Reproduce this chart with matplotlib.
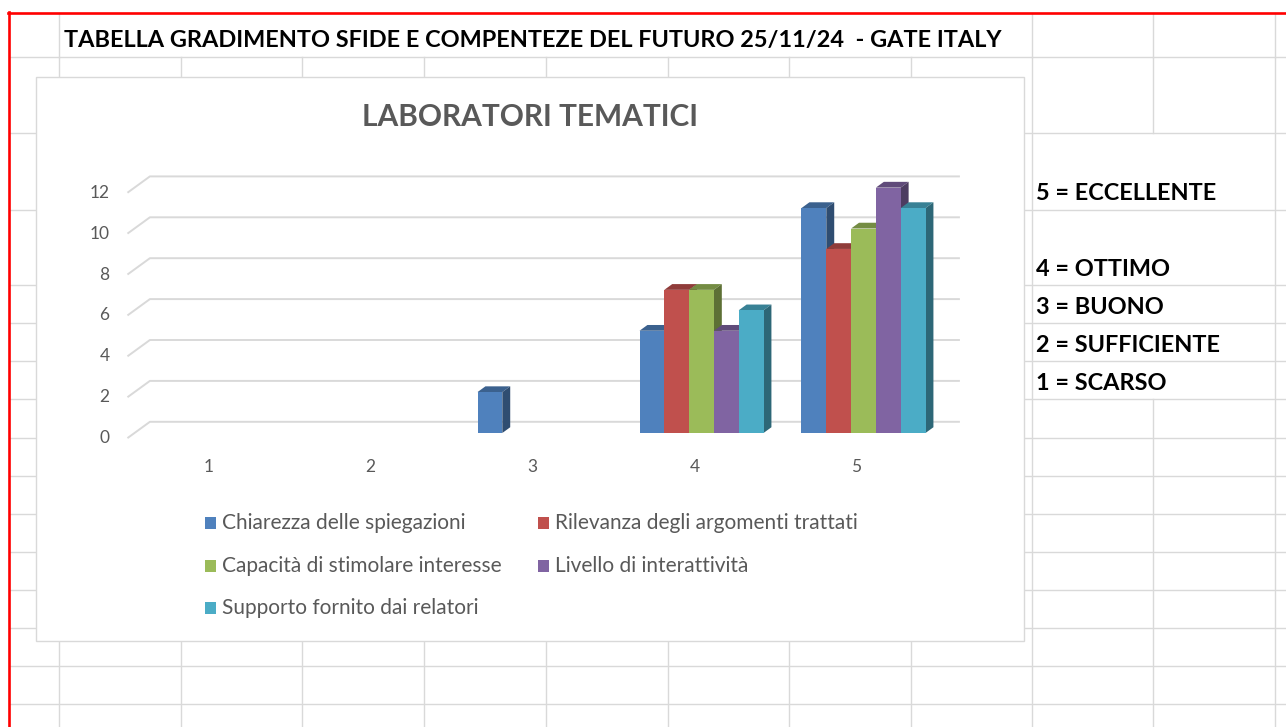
import matplotlib
matplotlib.use("Agg")
import matplotlib.pyplot as plt
from matplotlib.patches import Polygon, Rectangle
from matplotlib.lines import Line2D
import matplotlib.colors as mcolors

# ---------------- data ----------------
categories = [1, 2, 3, 4, 5]
series_names = ["Chiarezza delle spiegazioni", "Rilevanza degli argomenti trattati",
                "Capacità di stimolare interesse", "Livello di interattività",
                "Supporto fornito dai relatori"]
chiarezza = [0, 0, 2, 5, 11]
rilevanza = [0, 0, 0, 7, 9]
capacita = [0, 0, 0, 7, 10]
livello = [0, 0, 0, 5, 12]
supporto = [0, 0, 0, 6, 11]
y_ticks = [0, 2, 4, 6, 8, 10, 12]
chart_title = "LABORATORI TEMATICI"
sheet_header = "TABELLA GRADIMENTO SFIDE E COMPENTEZE DEL FUTURO 25/11/24  - GATE ITALY"
scale_labels = ["5 = ECCELLENTE", "4 = OTTIMO", "3 = BUONO", "2 = SUFFICIENTE", "1 = SCARSO"]

series_values = [chiarezza, rilevanza, capacita, livello, supporto]
colors = ["#4f81bd", "#c0504d", "#9bbb59", "#8064a2", "#4bacc6"]

FONT = "Lato"
W, H = 1286, 727
fig = plt.figure(figsize=(W / 100, H / 100), dpi=100)
fig.patch.set_facecolor("white")


def fx(x):
    return x / W


def fy(y):
    return 1 - y / H


GRID = "#d9d9d9"
# spreadsheet grid
row_lines = [57, 133, 210, 285, 323, 361, 399, 437.5, 476, 514, 552, 590, 628, 666, 704]
col_lines = [59, 181, 302, 424, 546, 668, 789, 911, 1032, 1153, 1275]
for y in row_lines:
    fig.add_artist(Line2D([fx(10), fx(W)], [fy(y), fy(y)], color=GRID, lw=1.0, zorder=-3))
for x in col_lines:
    segs = []
    if x == 59 or x >= 1032:
        segs.append((13, 57))
    if x == 1153:
        segs.append((57, 133))
        segs.append((399, H))
    else:
        segs.append((57, H))
    for (a, b) in segs:
        fig.add_artist(Line2D([fx(x), fx(x)], [fy(a), fy(b)], color=GRID, lw=1.0, zorder=-3))

# red border
fig.add_artist(Line2D([fx(9), fx(9)], [fy(12), fy(H)], color="#ff0000", lw=1.9, zorder=-1))
fig.add_artist(Line2D([fx(8), fx(W)], [fy(12.5), fy(12.5)], color="#ff0000", lw=1.9, zorder=-1))

# chart area
fig.add_artist(Rectangle((fx(36), fy(641)), fx(1024) - fx(36), fy(77) - fy(641),
                         facecolor="white", edgecolor=GRID, lw=1.0, zorder=-2))

# header and scale texts
fig.text(fx(64), fy(41), sheet_header, fontsize=16.9, fontweight="bold", family=FONT,
         color="black", ha="left", va="center")
for lab, y in zip(scale_labels, [193, 269, 307, 345, 383]):
    fig.text(fx(1036), fy(y), lab, fontsize=16.9, fontweight="bold", family=FONT,
             color="black", ha="left", va="center")

# chart title
fig.text(fx(530), fy(117), chart_title, fontsize=21.5, fontweight="bold", family=FONT,
         color="#595959", ha="center", va="center")

# ---------------- axes ----------------
L, R, T, B = 100, 1000, 150, 480
ax = fig.add_axes([fx(L), fy(B), fx(R) - fx(L), fy(T) - fy(B)])
ax.patch.set_visible(False)
PX_C = 162.0
PX_V = 20.45
X0, Y0 = 215.5, 433.0
ax.set_xlim(1 + (L - X0) / PX_C, 1 + (R - X0) / PX_C)
ax.set_ylim((Y0 - B) / PX_V, (Y0 - T) / PX_V)
ax.axis("off")

Dx, Dy = 22 / PX_C, 16 / PX_V
f_depth, b_depth = -0.32, 0.70
wall_l, wall_r = 0.5, 5.5

for v in y_ticks:
    ax.plot([wall_l + f_depth * Dx, wall_l + b_depth * Dx, wall_r + b_depth * Dx],
            [v + f_depth * Dy, v + b_depth * Dy, v + b_depth * Dy],
            color=GRID, lw=1.4, zorder=1, solid_capstyle="butt")
    ax.text(wall_l + f_depth * Dx - 18 / PX_C, v + f_depth * Dy, str(v), ha="right",
            va="center", fontsize=12.5, family=FONT, color="#595959")

for c in categories:
    ax.text(c + f_depth * Dx, (Y0 - 467) / PX_V, str(c), ha="center", va="center",
            fontsize=12.5, family=FONT, color="#595959")

bw = 24.8 / PX_C
bd = 0.36


def shade(col, k):
    r, g, b = mcolors.to_rgb(col)
    return (r * k, g * k, b * k)


for i, (vals, col) in enumerate(zip(series_values, colors)):
    for j, c in enumerate(categories):
        v = vals[j]
        if v <= 0:
            continue
        xc = c + (i - 2) * bw
        x0, x1 = xc - bw / 2, xc + bw / 2
        z = 2 + i * 0.1
        ax.add_patch(Polygon([(x0, v), (x1, v), (x1 + bd * Dx, v + bd * Dy),
                              (x0 + bd * Dx, v + bd * Dy)], closed=True,
                             facecolor=shade(col, 0.75), edgecolor="none", zorder=z))
        ax.add_patch(Polygon([(x1, 0), (x1 + bd * Dx, bd * Dy), (x1 + bd * Dx, v + bd * Dy),
                              (x1, v)], closed=True,
                             facecolor=shade(col, 0.6), edgecolor="none", zorder=z))
        ax.bar(xc, v, width=bw, color=col, edgecolor="none", zorder=z + 0.05)

# legend (Excel row-wise order)
leg_cols = [205, 538]
leg_rows = [523, 566, 608]
for k, (name, col) in enumerate(zip(series_names, colors)):
    r, cc = divmod(k, 2)
    x, y = leg_cols[cc], leg_rows[r]
    fig.add_artist(Rectangle((fx(x), fy(y + 6)), fx(11), fy(0) - fy(12),
                             facecolor=col, edgecolor="none", zorder=3))
    fig.text(fx(x + 17), fy(y), name, fontsize=15, family=FONT, color="#595959",
             ha="left", va="center")

fig.savefig("out.png", dpi=100)
